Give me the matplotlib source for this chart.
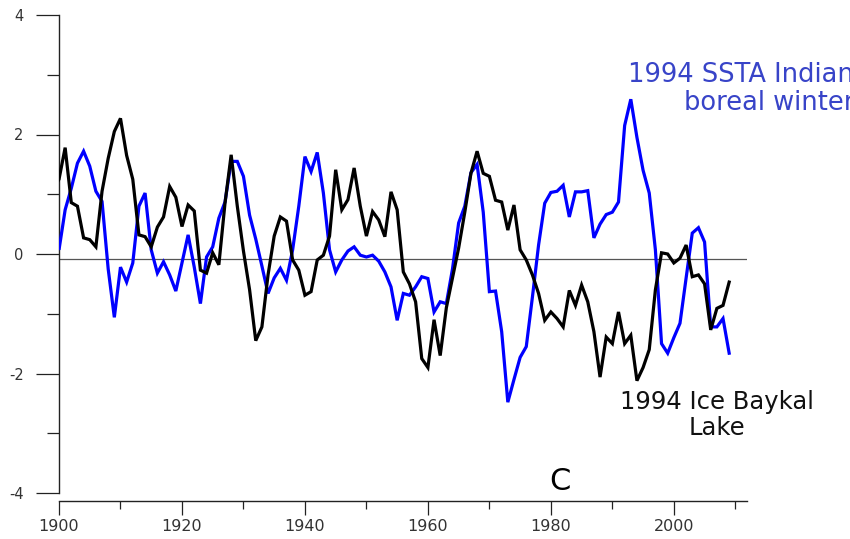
import numpy as np
import matplotlib
matplotlib.use("Agg")
import matplotlib.pyplot as plt
from matplotlib.ticker import FixedLocator

plt.rcParams["axes.unicode_minus"] = False

years = list(range(1899, 2010))

ice_baykal = [
    1.08,                                                        # 1899
    1.25, 1.78, 0.86, 0.80, 0.27, 0.24, 0.12, 1.05, 1.60, 2.05,  # 1900-1909
    2.27, 1.65, 1.25, 0.32, 0.29, 0.12, 0.45, 0.62, 1.13, 0.95,  # 1910-1919
    0.46, 0.82, 0.72, -0.27, -0.32, 0.02, -0.18, 0.85, 1.66, 0.80,  # 1920-1929
    0.05, -0.60, -1.45, -1.22, -0.35, 0.30, 0.62, 0.55, -0.10, -0.27,  # 1930-1939
    -0.69, -0.63, -0.10, -0.02, 0.30, 1.41, 0.74, 0.91, 1.44, 0.80,  # 1940-1949
    0.30, 0.71, 0.57, 0.29, 1.04, 0.74, -0.30, -0.50, -0.80, -1.75,  # 1950-1959
    -1.90, -1.10, -1.70, -0.90, -0.40, 0.10, 0.70, 1.35, 1.72, 1.35,  # 1960-1969
    1.30, 0.90, 0.87, 0.40, 0.82, 0.07, -0.10, -0.35, -0.66, -1.11,  # 1970-1979
    -0.97, -1.08, -1.22, -0.61, -0.86, -0.52, -0.80, -1.30, -2.06, -1.39,  # 1980-1989
    -1.50, -0.97, -1.50, -1.36, -2.12, -1.90, -1.60, -0.60, 0.02, 0.00,  # 1990-1999
    -0.15, -0.07, 0.15, -0.38, -0.35, -0.50, -1.27, -0.91, -0.86, -0.47,  # 2000-2009
]

ssta_indian = [
    0.37,                                                        # 1899
    0.07, 0.74, 1.10, 1.52, 1.72, 1.47, 1.05, 0.88, -0.25, -1.06,  # 1900-1909
    -0.22, -0.47, -0.15, 0.80, 1.02, 0.07, -0.32, -0.13, -0.35, -0.62,  # 1910-1919
    -0.15, 0.32, -0.22, -0.83, -0.05, 0.12, 0.60, 0.87, 1.55, 1.55,  # 1920-1929
    1.30, 0.65, 0.25, -0.20, -0.66, -0.40, -0.24, -0.44, 0.07, 0.80,  # 1930-1939
    1.63, 1.38, 1.70, 1.02, 0.07, -0.30, -0.10, 0.05, 0.12, -0.02,  # 1940-1949
    -0.05, -0.02, -0.12, -0.30, -0.55, -1.11, -0.66, -0.69, -0.55, -0.38,  # 1950-1959
    -0.41, -0.97, -0.80, -0.83, -0.25, 0.52, 0.80, 1.36, 1.50, 0.70,  # 1960-1969
    -0.63, -0.62, -1.30, -2.48, -2.10, -1.73, -1.55, -0.72, 0.15, 0.85,  # 1970-1979
    1.03, 1.05, 1.15, 0.62, 1.04, 1.04, 1.06, 0.27, 0.50, 0.66,  # 1980-1989
    0.70, 0.87, 2.15, 2.59, 1.95, 1.40, 1.02, 0.07, -1.50, -1.66,  # 1990-1999
    -1.40, -1.16, -0.40, 0.35, 0.44, 0.20, -1.22, -1.22, -1.08, -1.66,  # 2000-2009
]

ref_level = -0.09
y_major = [-4, -2, 0, 2, 4]
y_minor = [-3, -1, 1, 3]
x_major = [1900, 1920, 1940, 1960, 1980, 2000]
x_minor = [1910, 1930, 1950, 1970, 1990, 2010]

label_blue = "1994 SSTA Indian\nboreal winter"
label_black = "1994 Ice Baykal\nLake"

assert len(years) == len(ice_baykal) == len(ssta_indian)

W, H = 850, 539
fig = plt.figure(figsize=(W / 100, H / 100), dpi=100)
ax = fig.add_axes([59 / W, (H - 493) / H, 688 / W, 478 / H])

ax.plot(years, ssta_indian, color="#0000ff", lw=2.3, solid_joinstyle="miter", zorder=3)
ax.plot(years, ice_baykal, color="#000000", lw=2.3, solid_joinstyle="miter", zorder=4)
ax.axhline(ref_level, color="#555555", lw=0.9, zorder=2)

xmin, xmax = 1900.0, 2011.9
ax.set_xlim(xmin, xmax)
ax.set_ylim(-4, 4)

for s in ["top", "right"]:
    ax.spines[s].set_visible(False)
ax.spines["left"].set_color("#222222")
ax.spines["left"].set_linewidth(1.0)
ax.spines["bottom"].set_color("#222222")
ax.spines["bottom"].set_linewidth(1.0)
ax.spines["bottom"].set_position(("outward", 6))

ax.yaxis.set_major_locator(FixedLocator(y_major))
ax.yaxis.set_minor_locator(FixedLocator(y_minor))
ax.xaxis.set_major_locator(FixedLocator(x_major))
ax.xaxis.set_minor_locator(FixedLocator(x_minor))

ax.tick_params(axis="y", which="major", length=16.5, width=0.9, color="#222222",
               pad=9, labelsize=10.5, labelcolor="#333333")
ax.tick_params(axis="y", which="minor", length=8.5, width=0.9, color="#222222")
ax.tick_params(axis="x", which="major", length=10, width=0.9, color="#222222",
               pad=3, labelsize=11.5, labelcolor="#333333")
ax.tick_params(axis="x", which="minor", length=6, width=0.9, color="#222222")
for lab in ax.get_xticklabels() + ax.get_yticklabels():
    lab.set_family("DejaVu Sans")

def px_to_data(px, py):
    xd = 1900 + (px - 58) / 6.147
    yd = (254 - py) / 59.5
    return xd, yd

bx, by = px_to_data(853, 90)
ax.text(bx, by, label_blue, color="#3844c8", fontsize=18.5, family="DejaVu Sans",
        ha="right", va="center", multialignment="right", linespacing=1.1,
        clip_on=False)

kx, ky = px_to_data(716, 414)
ax.text(kx, ky, label_black, color="#111111", fontsize=17.5, family="DejaVu Sans",
        ha="center", va="center", multialignment="center", linespacing=1.1,
        clip_on=False)

cx, cy = px_to_data(559, 481)
ax.text(cx, cy, "C", color="#000000", fontsize=22, family="DejaVu Sans",
        ha="center", va="center", clip_on=False)

fig.savefig("out.png", dpi=100)
